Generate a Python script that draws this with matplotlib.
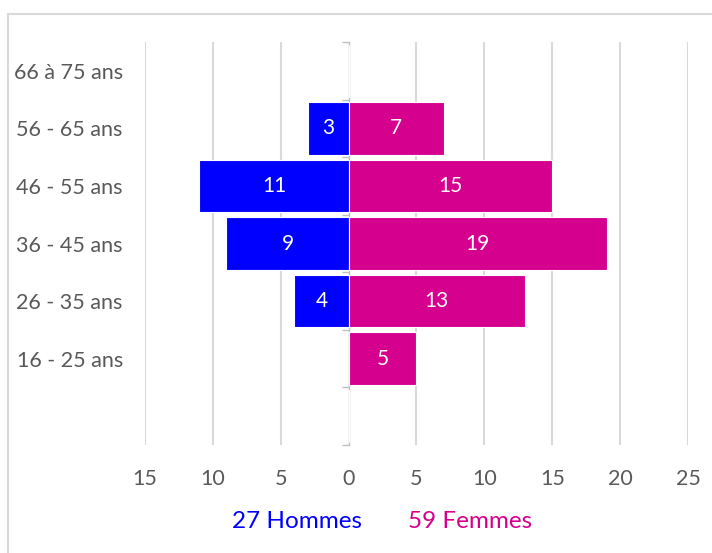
import matplotlib
matplotlib.use("Agg")
import matplotlib.pyplot as plt
from matplotlib.patches import Rectangle
import numpy as np

plt.rcParams['font.family'] = ['Lato', 'DejaVu Sans']

categories = ["", "16 - 25 ans", "26 - 35 ans", "36 - 45 ans", "46 - 55 ans", "56 - 65 ans", "66 à 75 ans"]
hommes = [0, 0, 4, 9, 11, 3, 0]
femmes = [0, 5, 13, 19, 15, 7, 0]
xticks = [-15, -10, -5, 0, 5, 10, 15, 20, 25]
legend_labels = ["27 Hommes", "59 Femmes"]

BLUE = "#0000FF"
MAGENTA = "#D6008F"
GRID = "#D9D9D9"
TXT = "#595959"

W, H = 712, 553
fig = plt.figure(figsize=(W / 100, H / 100), dpi=100)

# chart border
fig.patches.append(Rectangle((8 / W, -0.05), 1.2, 1 - 14 / H + 0.05, transform=fig.transFigure,
                             fill=False, edgecolor=GRID, linewidth=1.5))

ax = fig.add_axes([145 / W, 1 - 445 / H, (688 - 145) / W, (445 - 42) / H])
y = np.arange(len(categories))
h = 0.91
ax.barh(y, [-v for v in hommes], height=h, color=BLUE, edgecolor="white", linewidth=0.8, zorder=3)
ax.barh(y, femmes, height=h, color=MAGENTA, edgecolor="white", linewidth=0.8, zorder=3)

for yi, v in zip(y, hommes):
    if v:
        ax.text(-v / 2, yi, str(v), ha="center", va="center", color="white", fontsize=15, zorder=4)
for yi, v in zip(y, femmes):
    if v:
        ax.text(v / 2, yi, str(v), ha="center", va="center", color="white", fontsize=15, zorder=4)

xmin, xmax = xticks[0], xticks[-1]
ax.set_xlim(xmin, xmax)
ax.set_ylim(-0.5, len(categories) - 0.5)
ax.set_xticks(xticks, [str(abs(t)) for t in xticks])
ax.tick_params(axis="x", length=0, pad=17, labelsize=15.5, labelcolor=TXT)
for t in xticks:
    if t != 0:
        ax.axvline(t, color=GRID, linewidth=1.5, zorder=1)

ax.set_yticks(y, categories)
ax.tick_params(axis="y", length=0, pad=16, labelsize=15.5, labelcolor=TXT)
for s in ax.spines.values():
    s.set_visible(False)

# zero axis with boundary ticks
sec = ax.secondary_yaxis((0 - xmin) / (xmax - xmin))
sec.set_yticks(np.arange(len(categories) + 1) - 0.5, labels=[""] * (len(categories) + 1))
sec.tick_params(length=5, color="#BFBFBF", width=1)
sec.spines["left"].set_color("#BFBFBF")
sec.spines["left"].set_linewidth(1)

fig.text(362 / W, 1 - 522 / H, legend_labels[0], color=BLUE, fontsize=17.5, ha="right", va="center")
fig.text(408 / W, 1 - 522 / H, legend_labels[1], color=MAGENTA, fontsize=17.5, ha="left", va="center")

fig.savefig("out.png", dpi=100)
